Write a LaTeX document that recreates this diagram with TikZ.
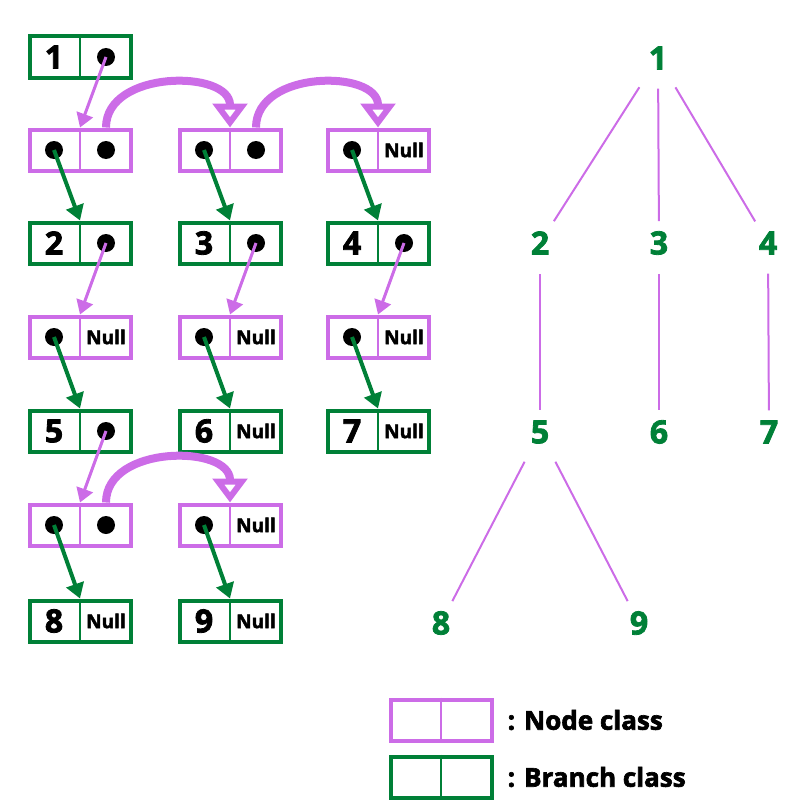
\documentclass[tikz,border=0pt]{standalone}
\usepackage{fontspec}
\setmainfont{Open Sans}[BoldFeatures={FakeBold=2.5}]
\usetikzlibrary{arrows.meta, positioning, calc}
\definecolor{nodepink}{RGB}{204,108,231}
\definecolor{branchgreen}{RGB}{0,128,55}

\tikzset{
  rec/.style={draw, line width=4pt, minimum width=101pt, minimum height=41pt, inner sep=0pt},
  cell/.style={inner sep=0pt, font=\fontsize{32}{32}\selectfont\bfseries},
  ptr/.style={nodepink, line width=3pt, -{Triangle[length=14pt, width=17pt]}},
  down/.style={branchgreen, line width=4pt, -{Triangle[length=15pt, width=18pt]}},
  hop/.style={nodepink, line width=8pt, -{Triangle[open, length=24pt, width=34pt, line width=6pt]}},
  tnum/.style={text=branchgreen, inner sep=10pt, font=\fontsize{32}{32}\selectfont\bfseries},
  tedge/.style={nodepink, line width=2pt, shorten <=9pt},
  legtext/.style={inner sep=0pt, font=\fontsize{26}{26}\selectfont\bfseries}
}

% colour, name, x, y, left cell, right cell
\newcommand{\recbox}[6]{%
  \node[rec, draw=#1] (#2) at (#3,#4) {};
  \draw[#1, line width=2pt] (#2.north) -- (#2.south);
  \node[cell] (#2-l) at ($(#2.center)+(-26,0)$) {#5};
  \node[cell] (#2-r) at ($(#2.center)+(26,0)$) {#6};
}
\newcommand{\nulltxt}{{\fontsize{19}{19}\selectfont Null}}

\begin{document}
\begin{tikzpicture}[x=1pt, y=-1pt]
  \useasboundingbox (0,0) rectangle (800,800);

  % left: the records
  \recbox{branchgreen}{b1}{80}{57}{1}{}
  \recbox{nodepink}{n1}{80}{150}{}{}
  \recbox{nodepink}{n2}{230}{150}{}{}
  \recbox{nodepink}{n3}{378}{150}{}{\nulltxt}
  \recbox{branchgreen}{b2}{80}{243}{2}{}
  \recbox{branchgreen}{b3}{230}{243}{3}{}
  \recbox{branchgreen}{b4}{378}{243}{4}{}
  \recbox{nodepink}{n4}{80}{337}{}{\nulltxt}
  \recbox{nodepink}{n5}{230}{337}{}{\nulltxt}
  \recbox{nodepink}{n6}{378}{337}{}{\nulltxt}
  \recbox{branchgreen}{b5}{80}{431}{5}{}
  \recbox{branchgreen}{b6}{230}{431}{6}{\nulltxt}
  \recbox{branchgreen}{b7}{378}{431}{7}{\nulltxt}
  \recbox{nodepink}{n7}{80}{525}{}{}
  \recbox{nodepink}{n8}{230}{525}{}{\nulltxt}
  \recbox{branchgreen}{b8}{80}{621}{8}{\nulltxt}
  \recbox{branchgreen}{b9}{230}{621}{9}{\nulltxt}

  \foreach \d in {b1-r, n1-l, n1-r, n2-l, n2-r, n3-l, b2-r, b3-r, b4-r,
                  n4-l, n5-l, n6-l, b5-r, n7-l, n7-r, n8-l} {
    \fill (\d) circle (9);
  }

  \foreach \a/\b in {b1/n1, b2/n4, b3/n5, b4/n6, b5/n7} {
    \draw[ptr] (\a-r.center) -- (\b.north);
  }
  \foreach \a/\b in {n1/b2, n2/b3, n3/b4, n4/b5, n5/b6, n6/b7, n7/b8, n8/b9} {
    \draw[down] (\a-l.center) -- (\b.north);
  }
  \foreach \a/\b in {n1/n2, n2/n3, n7/n8} {
    \draw[hop] (\a-r |- \a.north) .. controls +(0,-58) and +(0,-58) .. (\b.north);
  }

  % right: the tree
  \node[tnum] (t1) at (658,58) {1};
  \node[tnum] (t2) at (540,243) {2};
  \node[tnum] (t3) at (659,243) {3};
  \node[tnum] (t4) at (768,243) {4};
  \node[tnum] (t5) at (540,432) {5};
  \node[tnum] (t6) at (659,432) {6};
  \node[tnum] (t7) at (769,432) {7};
  \node[tnum] (t8) at (441,623) {8};
  \node[tnum] (t9) at (639,623) {9};
  \foreach \a/\b in {t1/t2, t1/t3, t1/t4, t2/t5, t3/t6, t4/t7, t5/t8, t5/t9} {
    \draw[tedge] (\a) -- (\b);
  }

  % legend
  \recbox{nodepink}{lg1}{441}{720}{}{}
  \recbox{branchgreen}{lg2}{441}{777}{}{}
  \node[legtext, right=14pt of lg1] (lt1) {: Node class};
  \node[legtext, right=14pt of lg2] (lt2) {: Branch class};
\end{tikzpicture}
\end{document}
